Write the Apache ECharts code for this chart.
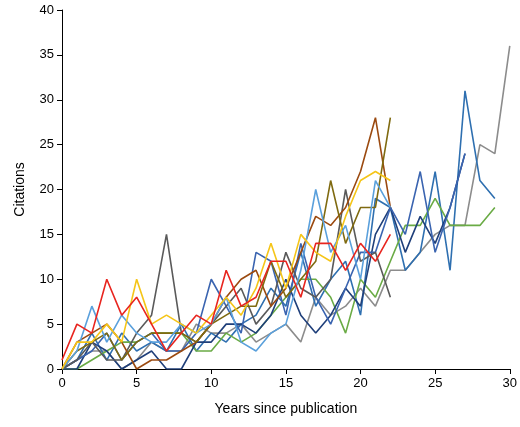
<!DOCTYPE html><html><head><meta charset="utf-8"><script src="https://cdn.jsdelivr.net/npm/echarts@6/dist/echarts.min.js"></script></head><body style="margin:0"><div id="c" style="width:520px;height:427px"></div><script>
const years = Array.from({length:31},(_,i)=>i);
const red =      [1,5,4,10,6,8,5,2,4,6,5,11,7,8,12,12,8,14,14,11,14,12,15];
const gold =     [0,3,3,5,3,10,5,6,5,4,6,8,6,9,14,9,15,13,12,17,21,22,21];
const lightBlue =[0,2,7,3,6,4,3,3,5,4,5,8,3,2,4,5,11,20,13,16,10,21,18];
const olive =    [0,2,3,4,1,3,4,4,4,3,5,6,7,7,12,8,10,12,21,14,18,18,28];
const brown =    [0,3,4,5,3,0,1,1,2,3,5,8,10,11,7,9,13,17,16,18,22,28,18];
const darkGray = [0,1,3,1,1,4,6,15,4,3,5,7,9,5,7,13,9,8,10,20,12,13,8];
const steelBlue= [0,1,2,4,1,3,4,2,2,4,10,7,4,13,12,6,14,8,5,9,13,13,18,15,22,13,18,24];
const navy =     [0,0,3,2,0,1,2,0,0,3,3,5,5,4,6,10,6,4,6,9,7,15,18,13,17,14,18,24];
const green =    [0,0,1,2,3,3,4,4,4,2,2,4,3,4,6,8,10,10,8,4,10,8,12,16,16,19,16,16,16,18];
const blue =     [0,1,4,1,4,2,3,2,5,2,4,3,5,6,9,7,13,7,10,12,6,19,18,11,13,22,11,31,21,19];
const gray =     [0,1,2,2,0,1,3,2,2,5,4,4,5,3,4,5,3,8,6,7,9,7,11,11,13,15,16,16,25,24,36];
const names = ['gray','blue','green','navy','steelBlue','darkGray','brown','olive','lightBlue','gold','red'];
const datas = [gray,blue,green,navy,steelBlue,darkGray,brown,olive,lightBlue,gold,red];
const colors = ['#8c8c8c','#2e6fb0','#6aab45','#1f3f7a','#3a64b0','#5a5a5a','#9b4a10','#7f6a10','#5aa0dc','#f5c518','#e8251f'];
const chart = echarts.init(document.getElementById('c'));
chart.setOption({
 animation:false,
 grid:{left:62,right:9,top:10,bottom:58},
 xAxis:{type:'value',min:0,max:30,interval:5,name:'Years since publication',nameLocation:'middle',nameGap:33,
  nameTextStyle:{fontSize:14,color:'#000',fontFamily:'Liberation Sans'},
  axisLine:{lineStyle:{color:'#000'}},axisTick:{inside:false,length:5,lineStyle:{color:'#000'}},
  axisLabel:{color:'#000',fontSize:13,fontFamily:'Liberation Sans'},splitLine:{show:false}},
 yAxis:{type:'value',min:0,max:40,interval:5,name:'Citations',nameLocation:'middle',nameGap:35,
  nameTextStyle:{fontSize:14,color:'#000',fontFamily:'Liberation Sans'},
  axisLine:{show:true,lineStyle:{color:'#000'}},axisTick:{show:true,length:5,lineStyle:{color:'#000'}},
  axisLabel:{color:'#000',fontSize:13,fontFamily:'Liberation Sans'},splitLine:{show:false}},
 series:datas.map((d,i)=>({type:'line',name:names[i],data:d.map((v,j)=>[years[j],v]),symbol:'none',
  lineStyle:{color:colors[i],width:1.6}}))
});
</script></body></html>
